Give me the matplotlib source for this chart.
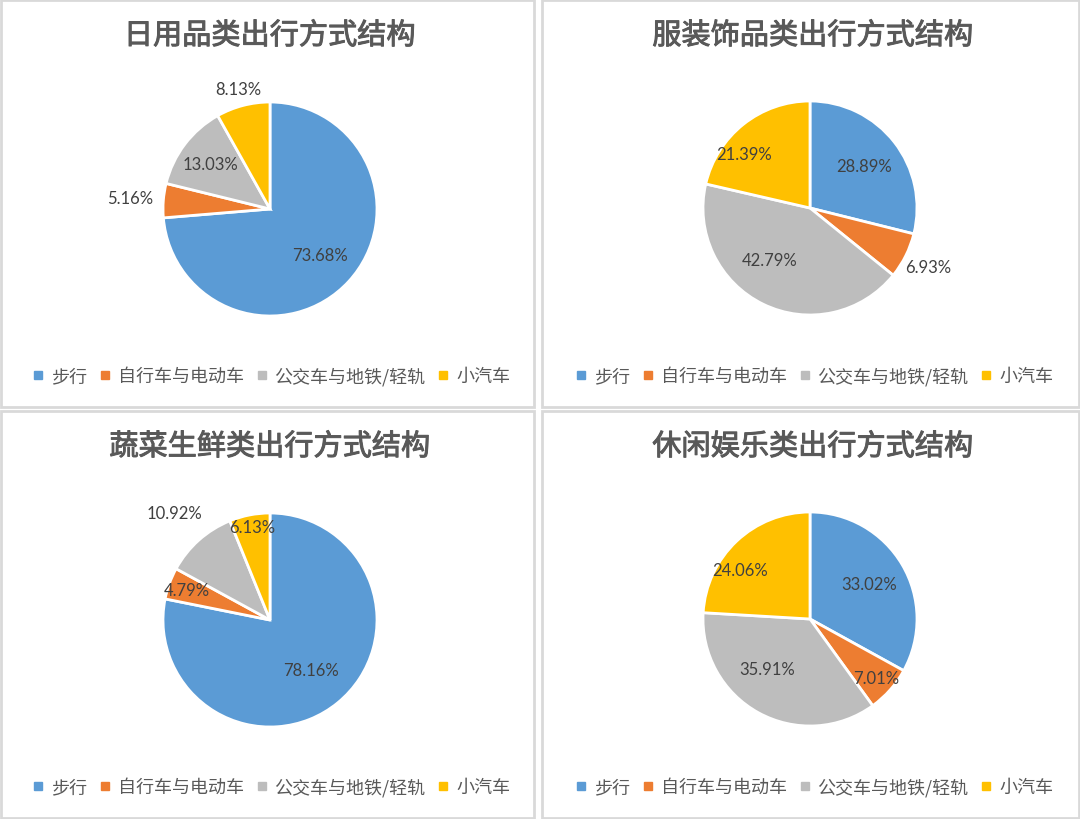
import matplotlib
matplotlib.use("Agg")
import matplotlib.pyplot as plt
from matplotlib.patches import Rectangle
from matplotlib.lines import Line2D
import matplotlib.patheffects as pe
import numpy as np

plt.rcParams['font.family'] = ['Noto Sans CJK SC', 'DejaVu Sans']

# ---- data ----
titles = ["日用品类出行方式结构", "服装饰品类出行方式结构",
          "蔬菜生鲜类出行方式结构", "休闲娱乐类出行方式结构"]
categories = ["步行", "自行车与电动车", "公交车与地铁/轻轨", "小汽车"]
daily = [73.68, 5.16, 13.03, 8.13]
clothing = [28.89, 6.93, 42.79, 21.39]
fresh = [78.16, 4.79, 10.92, 6.13]
leisure = [33.02, 7.01, 35.91, 24.06]
series = [daily, clothing, fresh, leisure]

# ---- style ----
colors = ["#5B9BD5", "#ED7D31", "#BDBDBD", "#FFC000"]
# radial label distance (fraction of radius) per slice, per chart
label_r = [[0.63, 1.31, 0.70, 1.16],
           [0.64, 1.23, 0.62, 0.80],
           [0.61, 0.83, 1.34, 0.89],
           [0.64, 0.83, 0.62, 0.80]]
label_dang = [[0, 0, 0, 0],
              [0, 0, -12, 12],
              [0, 0, 0, 0],
              [0, 0, -12, 12]]

W, H = 1080, 820
fig = plt.figure(figsize=(W / 100, H / 100), dpi=100)
fig.patch.set_facecolor("white")

panels = [(1, 1, 533, 407), (542, 1, 537, 407),
          (1, 412, 533, 407), (542, 412, 537, 407)]
centers = [(270, 210), (810, 209), (270, 621), (810, 620)]
R = 107

for (px, py, pw, ph) in panels:
    fig.add_artist(Rectangle((px / W, 1 - (py + ph) / H), pw / W, ph / H,
                             transform=fig.transFigure, facecolor="white",
                             edgecolor="#D9D9D9", linewidth=2, zorder=-5))

for i, vals in enumerate(series):
    cx, cy = centers[i]
    px, py, pw, ph = panels[i]
    ax = fig.add_axes([(cx - R) / W, 1 - (cy + R) / H, 2 * R / W, 2 * R / H])
    ax.set_zorder(2)
    ax.patch.set_visible(False)
    wedges, _ = ax.pie(vals, colors=colors, startangle=90, counterclock=False,
                       radius=1.0,
                       wedgeprops=dict(edgecolor="white", linewidth=2))
    ax.set_xlim(-1, 1)
    ax.set_ylim(-1, 1)
    ax.set_aspect("equal")
    ax.axis("off")
    for j, w in enumerate(wedges):
        ang = np.deg2rad((w.theta1 + w.theta2) / 2 + label_dang[i][j])
        r = label_r[i][j]
        ax.text(r * np.cos(ang), r * np.sin(ang), f"{vals[j]:.2f}%",
                ha="center", va="center", fontsize=12, color="#404040",
                family=["Lato", "DejaVu Sans"])
    # title
    fig.text((px + pw / 2 + 2) / W, 1 - (py + 36) / H, titles[i],
             ha="center", va="center", fontsize=21, color="#595959",
             path_effects=[pe.withStroke(linewidth=0.7, foreground="#595959")])
    # legend
    handles = [Line2D([0], [0], marker="s", linestyle="none", markersize=6,
                      markerfacecolor=c, markeredgecolor=c) for c in colors]
    fig.legend(handles, categories, loc="center",
               bbox_to_anchor=((px + pw / 2 + 4) / W, 1 - (py + 376) / H),
               ncol=4, frameon=False, fontsize=13, handlelength=0.6,
               handletextpad=0.4, columnspacing=0.7, labelcolor="#595959")

fig.savefig("out.png", dpi=100, facecolor="white")
